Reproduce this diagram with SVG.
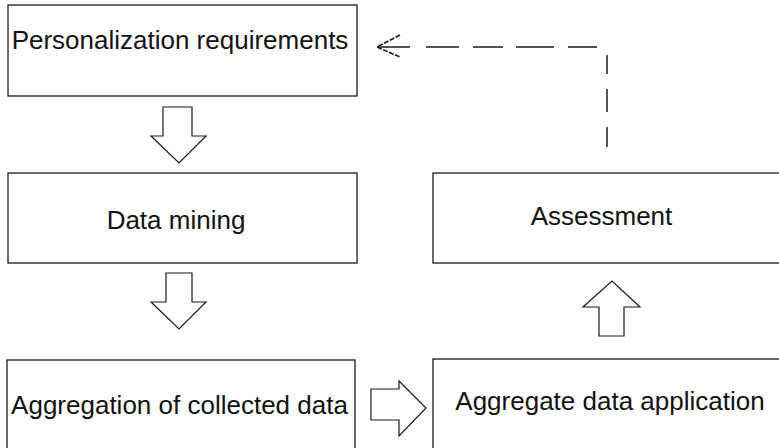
<svg xmlns="http://www.w3.org/2000/svg" width="779" height="448" viewBox="0 0 779 448">
<style>
.box{fill:#fff;stroke:#1a1a1a;stroke-width:1.3}
.lbl{font-family:"Liberation Sans",Arial,sans-serif;font-size:26px;fill:#111;text-anchor:middle}
.blk{fill:#fff;stroke:#1a1a1a;stroke-width:1.2;stroke-linejoin:miter}
.dash{fill:none;stroke:#1a1a1a;stroke-width:1.5;stroke-dasharray:20 15 23 15 19 18 29 14 38 13 30 14 33 100}
</style>
<rect width="779" height="448" fill="#fff"/>
<g id="node-personalization">
<rect class="box" x="8" y="5" width="349" height="91"/>
<text class="lbl" x="180" y="49">Personalization requirements</text>
</g>
<g id="node-datamining">
<rect class="box" x="8" y="173" width="349" height="90"/>
<text class="lbl" x="176" y="229">Data mining</text>
</g>
<g id="node-aggregation">
<rect class="box" x="7" y="360" width="348" height="100"/>
<text class="lbl" x="179.5" y="414">Aggregation of collected data</text>
</g>
<g id="node-application">
<rect class="box" x="433" y="359" width="360" height="100"/>
<text class="lbl" x="610" y="410">Aggregate data application</text>
</g>
<g id="node-assessment">
<rect class="box" x="433" y="173" width="360" height="90"/>
<text class="lbl" x="601.5" y="225">Assessment</text>
</g>
<g id="connectors">
<polygon class="blk" points="163,107 192,107 192,136 206,136 179,163 151,136 163,136"/>
<polygon class="blk" points="166,273 192,273 192,302 206,302 179,329 151,302 166,302"/>
<polygon class="blk" points="371,389 399,389 399,381 426,408 399,436 399,420 371,420"/>
<polygon class="blk" points="599,336 624,336 624,307 640,307 612,281 583,307 599,307"/>
<path class="dash" d="M607,147 L607,47 L377,47"/>
<path fill="none" stroke="#1a1a1a" stroke-width="1.6" stroke-dasharray="5 1.5" d="M400,35 L377,47 L400,57"/>
<line x1="377" y1="47" x2="410" y2="47" stroke="#1a1a1a" stroke-width="1.5"/>
</g>
</svg>
